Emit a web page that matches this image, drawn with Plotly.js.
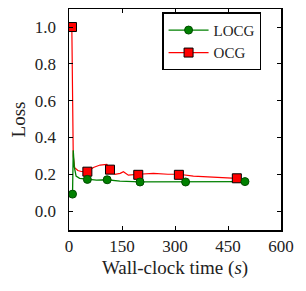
<!DOCTYPE html>
<html>
<head>
<meta charset="utf-8">
<script src="https://cdn.plot.ly/plotly-3.0.1.min.js"></script>
<style>html,body{margin:0;padding:0;background:#fff;}#chart{width:306px;height:291px;}</style>
</head>
<body>
<div id="chart"></div>
<script>
// Dense curves (wall-clock time in s, loss)
const locgLineT = [10, 12, 15, 20, 30, 52, 78, 108, 144, 201, 260, 330, 400, 446, 498];
const locgLineY = [0.092, 0.33, 0.24, 0.19, 0.178, 0.172, 0.168, 0.17, 0.163, 0.158, 0.158, 0.158, 0.158, 0.16, 0.16];
const ocgLineT = [8, 10, 12, 16, 25, 35, 52, 69, 88, 107, 116, 130, 145, 154, 168, 196, 239, 280, 311, 352, 408, 440, 475, 498];
const ocgLineY = [1.0, 0.5, 0.3, 0.235, 0.22, 0.215, 0.214, 0.237, 0.25, 0.254, 0.225, 0.2, 0.205, 0.214, 0.195, 0.2, 0.205, 0.2, 0.2, 0.19, 0.186, 0.182, 0.178, 0.168];
// Marker points
const locgMarkT = [10, 52, 108, 201, 330, 498];
const locgMarkY = [0.092, 0.172, 0.17, 0.158, 0.158, 0.16];
const ocgMarkT = [8.5, 52, 116, 196, 311, 475];
const ocgMarkY = [1.0, 0.214, 0.225, 0.197, 0.197, 0.178];
const seriesNames = ['LOCG', 'OCG'];
const xTicks = [0, 150, 300, 450, 600];
const yTicks = [0.0, 0.2, 0.4, 0.6, 0.8, 1.0];

const green = '#008000', greenEdge = '#004d00', red = '#ff0000';
const traces = [
  {x: ocgLineT, y: ocgLineY, mode: 'lines', line: {color: red, width: 1.2}, showlegend: false, hoverinfo: 'skip'},
  {x: locgLineT, y: locgLineY, mode: 'lines', line: {color: green, width: 1.3}, showlegend: false, hoverinfo: 'skip'},
  {x: ocgMarkT, y: ocgMarkY, mode: 'markers', marker: {symbol: 'square', size: 9, color: red, line: {color: '#000', width: 1}}, showlegend: false},
  {x: locgMarkT, y: locgMarkY, mode: 'markers', marker: {symbol: 'circle', size: 8, color: green, line: {color: greenEdge, width: 1}}, showlegend: false},
  {x: [null], y: [null], name: seriesNames[0], mode: 'lines+markers', line: {color: green, width: 1.3}, marker: {symbol: 'circle', size: 8, color: green, line: {color: greenEdge, width: 1}}},
  {x: [null], y: [null], name: seriesNames[1], mode: 'lines+markers', line: {color: red, width: 1.2}, marker: {symbol: 'square', size: 9, color: red, line: {color: '#000', width: 1}}}
];
const font = 'Liberation Serif, Times New Roman, serif';
const layout = {
  width: 306, height: 291,
  margin: {l: 69, r: 25, t: 9, b: 61},
  paper_bgcolor: '#fff', plot_bgcolor: '#fff',
  font: {family: font, color: '#000', size: 16},
  showlegend: true,
  legend: {x: 0.439, y: 0.985, xanchor: 'left', yanchor: 'top', bordercolor: '#000', borderwidth: 1.5, bgcolor: '#fff', itemwidth: 40, font: {family: font, size: 15, color: '#222'}, tracegroupgap: 0},
  xaxis: {
    range: [0, 600], tickvals: xTicks, ticktext: xTicks.map(String),
    showgrid: false, zeroline: false, showline: true, linecolor: '#000', linewidth: 1.5, mirror: 'ticks',
    ticks: 'inside', ticklen: 4, tickwidth: 1, tickcolor: '#000',
    tickfont: {family: font, size: 17, color: '#222'},
    title: {text: 'Wall-clock time (<i>s</i>)', font: {family: font, size: 19, color: '#222'}, standoff: 6}
  },
  yaxis: {
    range: [-0.103, 1.098], tickvals: yTicks, ticktext: yTicks.map(v => v.toFixed(1)),
    showgrid: false, zeroline: false, showline: true, linecolor: '#000', linewidth: 1.5, mirror: 'ticks',
    ticks: 'inside', ticklen: 4, tickwidth: 1, tickcolor: '#000',
    tickfont: {family: font, size: 17, color: '#222'}, ticklabelstandoff: 8,
    title: {text: 'Loss', font: {family: font, size: 19, color: '#222'}, standoff: 4}
  }
};
Plotly.newPlot('chart', traces, layout, {staticPlot: true, displayModeBar: false});
</script>
</body>
</html>
